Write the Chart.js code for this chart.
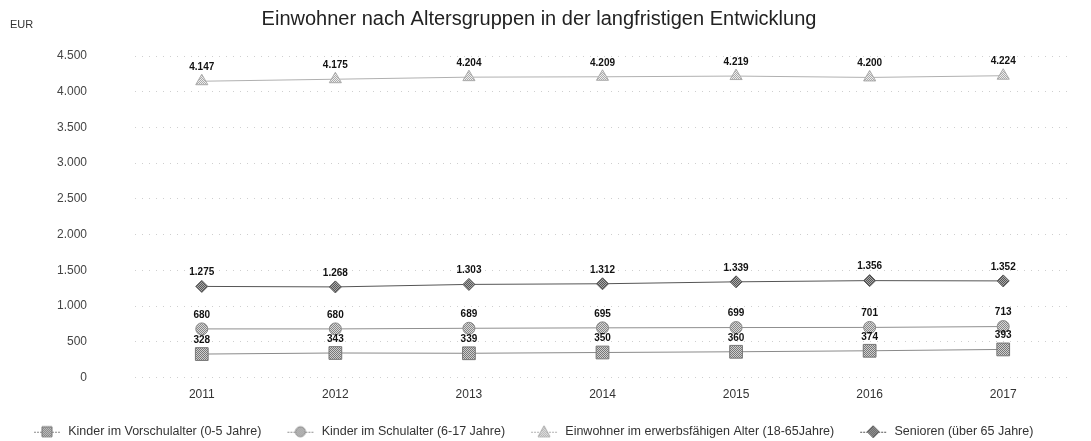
<!DOCTYPE html>
<html>
<head>
<meta charset="utf-8">
<script src="https://cdn.jsdelivr.net/npm/chart.js@4"></script>
<style>
  html, body { margin: 0; padding: 0; background: #fff; }
  #wrap { width: 1091px; height: 441px; }
</style>
</head>
<body>
<div id="wrap"><canvas id="myChart"></canvas></div>
<script>
// data
var years = ['2011', '2012', '2013', '2014', '2015', '2016', '2017'];
var vorschule = [328, 343, 339, 350, 360, 374, 393];
var schulalter = [680, 680, 689, 695, 699, 701, 713];
var erwerbsfaehig = [4147, 4175, 4204, 4209, 4219, 4200, 4224];
var senioren = [1275, 1268, 1303, 1312, 1339, 1356, 1352];
var seriesNames = [
    'Kinder im Vorschulalter (0-5 Jahre)',
    'Kinder im Schulalter (6-17 Jahre)',
    'Einwohner im erwerbsfähigen Alter (18-65Jahre)',
    'Senioren (über 65 Jahre)'
];
var yTicks = [0, 500, 1000, 1500, 2000, 2500, 3000, 3500, 4000, 4500];

var FONT = "'Liberation Sans', Arial, sans-serif";

function fmt(v) {
    return String(v).replace(/\B(?=(\d{3})+(?!\d))/g, '.');
}

// grainy fill like the scanned markers
function makePattern(dark, light) {
    var c = document.createElement('canvas');
    c.width = 2; c.height = 2;
    var g = c.getContext('2d');
    g.fillStyle = light; g.fillRect(0, 0, 2, 2);
    g.fillStyle = dark; g.fillRect(0, 0, 1, 1); g.fillRect(1, 1, 1, 1);
    return document.createElement('canvas').getContext('2d').createPattern(c, 'repeat');
}

var styles = [
    { shape: 'rect', line: '#8a8a8a', border: '#777', fill: makePattern('#777', '#cfcfcf'), r: 9 },
    { shape: 'circle', line: '#8f8f8f', border: '#888', fill: makePattern('#888', '#d8d8d8'), r: 6 },
    { shape: 'triangle', line: '#b0b0b0', border: '#aaa', fill: makePattern('#aaa', '#eee'), r: 7 },
    { shape: 'rectRot', line: '#555', border: '#555', fill: makePattern('#555', '#aaa'), r: 6 }
];

// legend icon: line with marker in the middle
function legendIcon(st) {
    var c = document.createElement('canvas');
    c.width = 30; c.height = 14;
    var g = c.getContext('2d');
    g.strokeStyle = st.line; g.lineWidth = 1;
    g.setLineDash([2, 1]);
    g.beginPath(); g.moveTo(2, 7.5); g.lineTo(28, 7.5); g.stroke();
    g.setLineDash([]);
    g.fillStyle = st.fill; g.strokeStyle = st.border;
    g.beginPath();
    if (st.shape == 'rect') g.rect(10, 2, 10, 10);
    else if (st.shape == 'circle') g.arc(15, 7, 5, 0, Math.PI * 2);
    else if (st.shape == 'triangle') { g.moveTo(15, 1); g.lineTo(21, 12); g.lineTo(9, 12); g.closePath(); }
    else { g.moveTo(15, 1); g.lineTo(21, 7); g.lineTo(15, 13); g.lineTo(9, 7); g.closePath(); }
    g.fill(); g.stroke();
    return c;
}

var allSeries = [vorschule, schulalter, erwerbsfaehig, senioren];
var datasets = allSeries.map(function (vals, i) {
    var st = styles[i];
    return {
        label: seriesNames[i],
        data: vals,
        borderColor: st.line,
        borderWidth: 1,
        pointStyle: st.shape,
        pointRadius: st.r,
        pointBackgroundColor: st.fill,
        pointBorderColor: st.border,
        pointBorderWidth: 1,
        legendIcon: legendIcon(st)
    };
});

var valueLabels = {
    id: 'valueLabels',
    afterDatasetsDraw: function (chart) {
        var ctx = chart.ctx;
        ctx.save();
        ctx.font = 'bold 10px ' + FONT;
        ctx.fillStyle = '#111';
        ctx.textAlign = 'center';
        ctx.textBaseline = 'middle';
        chart.data.datasets.forEach(function (ds, i) {
            chart.getDatasetMeta(i).data.forEach(function (pt, j) {
                ctx.fillText(fmt(ds.data[j]), pt.x, pt.y - 14);
            });
        });
        ctx.restore();
    }
};

var unitLabel = {
    id: 'unitLabel',
    afterDraw: function (chart) {
        var ctx = chart.ctx;
        ctx.save();
        ctx.font = '11px ' + FONT;
        ctx.fillStyle = '#333';
        ctx.textAlign = 'left';
        ctx.textBaseline = 'middle';
        ctx.fillText('EUR', 10, chart.scales.y.top - 31);
        ctx.restore();
    }
};

var chart = new Chart('myChart', {
    type: 'line',
    data: { labels: years, datasets: datasets },
    options: {
        responsive: true,
        maintainAspectRatio: false,
        animation: false,
        layout: { padding: { left: 8, right: 21, top: 4, bottom: -7 } },
        plugins: {
            title: {
                display: true,
                text: 'Einwohner nach Altersgruppen in der langfristigen Entwicklung',
                color: '#222',
                font: { family: FONT, size: 20, weight: 'normal' },
                padding: { top: 3, bottom: 25 }
            },
            legend: {
                position: 'bottom',
                align: 'start',
                labels: {
                    usePointStyle: true,
                    pointStyleWidth: 30,
                    color: '#333',
                    font: { family: FONT, size: 12.5 },
                    padding: 24,
                    generateLabels: function (chart) {
                        return chart.data.datasets.map(function (ds, i) {
                            return {
                                text: ds.label,
                                pointStyle: ds.legendIcon,
                                fillStyle: '#fff',
                                strokeStyle: '#fff',
                                lineWidth: 0,
                                fontColor: '#333',
                                datasetIndex: i
                            };
                        });
                    }
                }
            },
            tooltip: { enabled: false }
        },
        scales: {
            x: {
                offset: true,
                afterFit: function (axis) { axis.height = 24; },
                grid: { display: false, drawTicks: false },
                border: { display: false },
                ticks: { color: '#333', font: { family: FONT, size: 12 }, padding: 10 }
            },
            y: {
                min: 0,
                max: 4500,
                afterFit: function (axis) { axis.width = 127; },
                afterBuildTicks: function (axis) {
                    axis.ticks = yTicks.map(function (v) { return { value: v }; });
                },
                grid: { color: '#cfcfcf', lineWidth: 1, drawTicks: false },
                border: { display: false, dash: [1, 6] },
                ticks: {
                    color: '#444',
                    font: { family: FONT, size: 12 },
                    padding: 48,
                    callback: function (v) { return fmt(v); }
                }
            }
        }
    },
    plugins: [valueLabels, unitLabel]
});
</script>
</body>
</html>
